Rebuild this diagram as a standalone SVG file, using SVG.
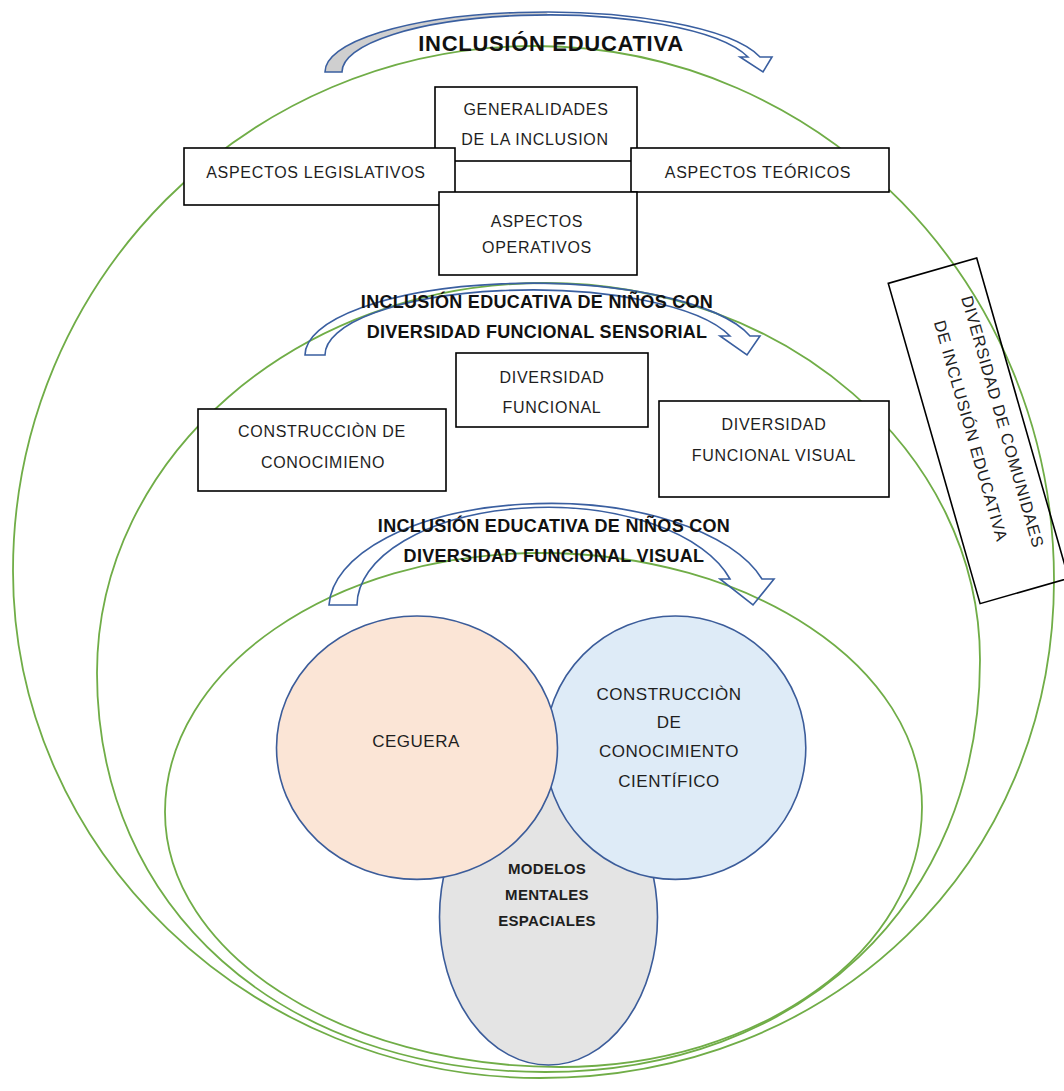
<svg xmlns="http://www.w3.org/2000/svg" width="1064" height="1091" viewBox="0 0 1064 1091">
<style>
.green{fill:none;stroke:#70AD47;stroke-width:1.8}
.arrow{fill:none;stroke:#3A5FA0;stroke-width:1.6;stroke-linejoin:miter}
.box{fill:#fff;stroke:#000;stroke-width:1.6}
.t{font-family:"Liberation Sans",Arial,sans-serif;font-size:16px;letter-spacing:0.7px;text-anchor:middle;fill:#1e1e1e}
.c{font-size:17px;letter-spacing:0.5px}
.h1{font-weight:bold;font-size:22px;fill:#111}
.h2{font-weight:bold;font-size:18px;letter-spacing:0.3px;fill:#111}
.mb{font-weight:bold;font-size:15px;letter-spacing:0.3px}
.circ{stroke:#3B5C9A;stroke-width:1.6}
</style>
<rect width="1064" height="1091" fill="#fff"/>
<g id="containers">
<path id="outer" class="green" d="M13,571 C13,281 246.7,46 535,46 C821.6,46 1054,285.1 1054,580 C1054,863.9 833,1078 540,1078 C250.1,1078 13,849.9 13,571 Z"/>
<path id="middle" class="green" d="M97,673 C97,457.6 297.6,283 545,283 C785.3,283 980,451.8 980,660 C980,903.1 801.7,1072 545,1072 C280.7,1072 97,908.4 97,673 Z"/>
<path id="inner" class="green" d="M165,812 C165,669 332.9,553 540,553 C751,553 922,666.7 922,807 C922,950.6 759.9,1067 560,1067 C341.8,1067 165,952.8 165,812 Z"/>
</g>
<g id="connectors">
<path d="M325,72 A221,60 0 0 1 546,12 L548.6,15 A206.6,57 0 0 0 342,72 Z" fill="#CFCFCF" stroke="none"/>
<path id="arrow1" class="arrow" d="M325,72 A221,60 0 0 1 760,57 L772,57 L763,72 L740,57 L748,57 A206.6,57 0 0 0 342,72 Z"/>
<path id="arrow2" class="arrow" d="M305,355 A226.6,72 0 0 1 750,336 L760,336 L747,355 L720,336 L730,336 A207,65 0 0 0 325,355 Z"/>
<path id="arrow3" class="arrow" d="M329,605 A221,105 0 0 1 762,579 L774,579 L753,605 L720,579 L730,579 A190,98 0 0 0 357,605 Z"/>
</g>
<g id="n-generalidades">
<rect class="box" x="435" y="87" width="202" height="74"/>
<text class="t" x="536" y="115">GENERALIDADES</text>
<text class="t" x="535" y="145">DE LA INCLUSION</text>
</g>
<g id="n-legislativos">
<rect class="box" x="184" y="148" width="271" height="57"/>
<text class="t" x="316" y="178">ASPECTOS LEGISLATIVOS</text>
</g>
<g id="n-teoricos">
<rect class="box" x="631" y="148" width="258" height="44"/>
<text class="t" x="758" y="178">ASPECTOS TEÓRICOS</text>
</g>
<g id="n-operativos">
<rect class="box" x="439" y="192" width="198" height="83"/>
<text class="t" x="537" y="227">ASPECTOS</text>
<text class="t" x="537" y="253">OPERATIVOS</text>
</g>
<g id="n-diversidad-funcional">
<rect class="box" x="456" y="353" width="192" height="74"/>
<text class="t" x="552" y="383">DIVERSIDAD</text>
<text class="t" x="552" y="413">FUNCIONAL</text>
</g>
<g id="n-construccion">
<rect class="box" x="198" y="409" width="248" height="82"/>
<text class="t" x="322" y="437">CONSTRUCCIÒN DE</text>
<text class="t" x="323" y="468">CONOCIMIENO</text>
</g>
<g id="n-visual">
<rect class="box" x="659" y="401" width="230" height="96"/>
<text class="t" x="774" y="430">DIVERSIDAD</text>
<text class="t" x="774" y="461">FUNCIONAL VISUAL</text>
</g>
<g id="n-comunidades" transform="translate(978.4,430.8) rotate(74)">
<rect x="-166.6" y="-46" width="333.2" height="92" fill="none" stroke="#000" stroke-width="1.6"/>
<text class="t" x="-2" y="-20" style="font-size:16.5px">DIVERSIDAD DE COMUNIDAES</text>
<text class="t" x="-2" y="13" style="font-size:16.5px">DE INCLUSIÓN EDUCATIVA</text>
</g>
<g id="n-modelos">
<ellipse class="circ" cx="548.5" cy="917" rx="109" ry="148" fill="#E4E4E4"/>
<text class="t mb" x="547" y="874">MODELOS</text>
<text class="t mb" x="547" y="900">MENTALES</text>
<text class="t mb" x="547" y="926">ESPACIALES</text>
</g>
<g id="n-conocimiento">
<ellipse class="circ" cx="675.4" cy="747.7" rx="130.4" ry="131.7" fill="#DEEBF7"/>
<text class="t c" x="669" y="700">CONSTRUCCIÒN</text>
<text class="t c" x="669" y="728">DE</text>
<text class="t c" x="669" y="757">CONOCIMIENTO</text>
<text class="t c" x="669" y="787">CIENTÍFICO</text>
</g>
<g id="n-ceguera">
<ellipse class="circ" cx="417" cy="747.7" rx="140.5" ry="131.7" fill="#FBE5D6"/>
<text class="t c" x="416" y="747">CEGUERA</text>
</g>
<g id="labels">
<text class="t h1" x="551" y="51">INCLUSIÓN EDUCATIVA</text>
<text class="t h2" x="537" y="308">INCLUSIÓN EDUCATIVA DE NIÑOS CON</text>
<text class="t h2" x="537" y="338">DIVERSIDAD FUNCIONAL SENSORIAL</text>
<text class="t h2" x="554" y="532">INCLUSIÓN EDUCATIVA DE NIÑOS CON</text>
<text class="t h2" x="554" y="562">DIVERSIDAD FUNCIONAL VISUAL</text>
</g>
</svg>
